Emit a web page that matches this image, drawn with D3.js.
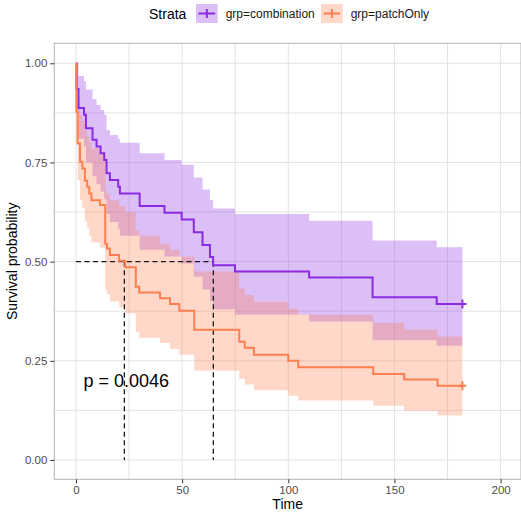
<!DOCTYPE html>
<html lang="en-US">
<head>
    <meta charset="utf-8">
    <script src="https://d3js.org/d3.v7.min.js"></script>
    <style>
        body { margin: 0; background: #fff; }
        text { font-family: "Liberation Sans", Arial, sans-serif; }
        .tick text { fill: #4d4d4d; font-size: 11.5px; }
        .tick line { stroke: #333; }
        .grid line { stroke: #e3e3e3; stroke-width: 1; }
    </style>
</head>
<body>
<div id="canvas"></div>
<script>
    // combination group (purple)
    var combTime  = [0, 0.3, 1.2, 3.8, 4.7, 7.8, 9.7, 11.6, 13.3, 14.4, 16.0, 19.9, 20.7, 30.0, 41.7, 49.8, 55.5, 59.6, 63.1, 64.6, 74.9, 109.8, 139.7, 169.9, 182];
    var combSurv  = [1, 0.935, 0.887, 0.870, 0.836, 0.807, 0.790, 0.773, 0.756, 0.723, 0.706, 0.689, 0.672, 0.640, 0.623, 0.606, 0.574, 0.542, 0.512, 0.491, 0.475, 0.460, 0.410, 0.393, 0.393];
    var combUpper = [1, 1.0, 0.968, 0.955, 0.934, 0.910, 0.895, 0.882, 0.870, 0.832, 0.819, 0.810, 0.800, 0.773, 0.756, 0.744, 0.712, 0.682, 0.655, 0.634, 0.620, 0.603, 0.553, 0.536, 0.536];
    var combLower = [1, 0.875, 0.810, 0.790, 0.750, 0.715, 0.695, 0.677, 0.657, 0.620, 0.600, 0.583, 0.565, 0.530, 0.513, 0.495, 0.462, 0.430, 0.400, 0.380, 0.366, 0.349, 0.302, 0.288, 0.288];

    // patchOnly group (orange)
    var patchTime  = [0, 0.2, 0.8, 1.9, 3.0, 4.2, 5.3, 6.3, 7.3, 11.3, 13.8, 14.6, 16.0, 20.3, 23.2, 28.2, 29.8, 39.6, 44.3, 48.7, 55.7, 76.9, 79.5, 83.8, 100.0, 104.7, 140.0, 154.6, 170.3, 182];
    var patchSurv  = [1, 0.878, 0.798, 0.752, 0.735, 0.704, 0.689, 0.672, 0.655, 0.643, 0.545, 0.533, 0.517, 0.502, 0.486, 0.437, 0.422, 0.408, 0.393, 0.376, 0.328, 0.298, 0.283, 0.265, 0.250, 0.234, 0.217, 0.203, 0.187, 0.187];
    var patchUpper = [1, 0.960, 0.910, 0.870, 0.855, 0.830, 0.815, 0.800, 0.785, 0.775, 0.680, 0.670, 0.655, 0.640, 0.625, 0.578, 0.565, 0.545, 0.530, 0.513, 0.475, 0.433, 0.416, 0.399, 0.382, 0.366, 0.346, 0.329, 0.311, 0.311];
    var patchLower = [1, 0.800, 0.705, 0.655, 0.635, 0.600, 0.585, 0.565, 0.548, 0.535, 0.430, 0.418, 0.400, 0.385, 0.370, 0.322, 0.308, 0.295, 0.280, 0.265, 0.225, 0.205, 0.190, 0.176, 0.162, 0.150, 0.137, 0.124, 0.112, 0.112];

    var strataNames = ["grp=combination", "grp=patchOnly"];
    var strataColors = ["#8a2be2", "#ff7f50"];
    var medianTimes = [64.7, 22.8];
    var pLabel = "p = 0.0046";
    var xTicks = [0, 50, 100, 150, 200];
    var yTicks = [0, 0.25, 0.5, 0.75, 1];
    var xMinor = [25, 75, 125, 175];
    var yMinor = [0.125, 0.375, 0.625, 0.875];

    var svg = d3.select("#canvas")
        .append("svg")
        .attr("width", 521)
        .attr("height", 512);

    var panel = { left: 54.3, right: 521, top: 43.3, bottom: 479.3 };
    var x = d3.scaleLinear().domain([-10.2, 209.6]).range([panel.left, panel.right]);
    var y = d3.scaleLinear().domain([-0.0487, 1.0504]).range([panel.bottom, panel.top]);

    // grid
    var grid = svg.append("g").attr("class", "grid");
    grid.selectAll(".vx").data(xTicks.concat(xMinor)).enter().append("line")
        .attr("x1", function(d) { return x(d); }).attr("x2", function(d) { return x(d); })
        .attr("y1", panel.top).attr("y2", panel.bottom);
    grid.selectAll(".hy").data(yTicks.concat(yMinor)).enter().append("line")
        .attr("y1", function(d) { return y(d); }).attr("y2", function(d) { return y(d); })
        .attr("x1", panel.left).attr("x2", panel.right);

    var groups = [
        { t: combTime, s: combSurv, up: combUpper, lo: combLower },
        { t: patchTime, s: patchSurv, up: patchUpper, lo: patchLower }
    ];

    var area = d3.area()
        .curve(d3.curveStepAfter)
        .x(function(d) { return x(d[0]); })
        .y0(function(d) { return y(d[2]); })
        .y1(function(d) { return y(d[1]); });
    var line = d3.line()
        .curve(d3.curveStepAfter)
        .x(function(d) { return x(d[0]); })
        .y(function(d) { return y(d[1]); });

    // confidence bands
    groups.forEach(function(g, i) {
        svg.append("path")
            .attr("d", area(g.t.map(function(t, j) { return [t, g.up[j], g.lo[j]]; })))
            .attr("fill", strataColors[i])
            .attr("fill-opacity", 0.3);
    });

    // median lines
    var med = svg.append("g")
        .attr("stroke", "#1a1a1a")
        .attr("stroke-width", 1.3)
        .attr("stroke-dasharray", "5,3.5")
        .attr("fill", "none");
    med.append("line")
        .attr("x1", x(0)).attr("x2", x(d3.max(medianTimes)))
        .attr("y1", y(0.5)).attr("y2", y(0.5));
    medianTimes.forEach(function(m) {
        med.append("line")
            .attr("x1", x(m)).attr("x2", x(m))
            .attr("y1", y(0.5)).attr("y2", y(0));
    });

    // survival curves + censor mark at the end
    groups.forEach(function(g, i) {
        svg.append("path")
            .attr("d", line(g.t.map(function(t, j) { return [t, g.s[j]]; })))
            .attr("fill", "none")
            .attr("stroke", strataColors[i])
            .attr("stroke-width", 2);
        var last = g.t.length - 1;
        var cx = x(g.t[last]), cy = y(g.s[last]);
        svg.append("path")
            .attr("d", "M" + (cx - 4) + "," + cy + "H" + (cx + 4) + "M" + cx + "," + (cy - 4.5) + "V" + (cy + 4.5))
            .attr("stroke", strataColors[i])
            .attr("stroke-width", 2);
    });

    // panel border
    svg.append("rect")
        .attr("x", panel.left).attr("y", panel.top)
        .attr("width", panel.right - panel.left).attr("height", panel.bottom - panel.top)
        .attr("fill", "none").attr("stroke", "#b3b3b3");

    // axes
    svg.append("g")
        .attr("transform", "translate(0," + panel.bottom + ")")
        .call(d3.axisBottom(x).tickValues(xTicks).tickSize(4).tickPadding(3))
        .call(function(g) { g.select(".domain").remove(); });
    svg.append("g")
        .attr("transform", "translate(" + panel.left + ",0)")
        .call(d3.axisLeft(y).tickValues(yTicks).tickFormat(d3.format(".2f")).tickSize(4).tickPadding(3))
        .call(function(g) { g.select(".domain").remove(); });

    svg.append("text")
        .attr("x", (panel.left + panel.right) / 2).attr("y", 509)
        .attr("text-anchor", "middle").attr("font-size", 14)
        .text("Time");
    svg.append("text")
        .attr("transform", "translate(17," + ((panel.top + panel.bottom) / 2) + ") rotate(-90)")
        .attr("text-anchor", "middle").attr("font-size", 14)
        .text("Survival probability");

    svg.append("text")
        .attr("x", x(3.5)).attr("y", y(0.184))
        .attr("font-size", 18)
        .text(pLabel);

    // legend
    var legend = svg.append("g");
    legend.append("text").attr("x", 149).attr("y", 18.5).attr("font-size", 14).text("Strata");
    var keyX = [196, 321];
    strataNames.forEach(function(name, i) {
        var k = legend.append("g").attr("transform", "translate(" + keyX[i] + ",4)");
        k.append("rect").attr("width", 21.7).attr("height", 19)
            .attr("fill", strataColors[i]).attr("fill-opacity", 0.3);
        k.append("path")
            .attr("d", "M2.5,9.5H19.2M10.85,5V14")
            .attr("stroke", strataColors[i]).attr("stroke-width", 2);
        legend.append("text").attr("x", keyX[i] + 29.7).attr("y", 18)
            .attr("font-size", 12).attr("fill", "#1a1a1a").text(name);
    });
</script>
</body>
</html>
